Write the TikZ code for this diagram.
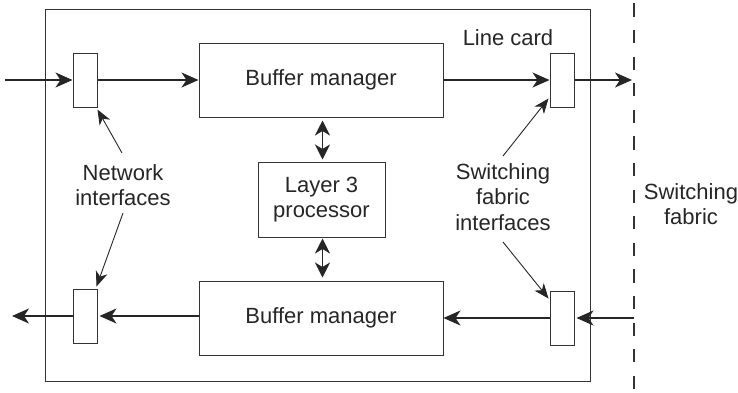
\documentclass[tikz,border=0pt]{standalone}
\usepackage{fontspec}
\setmainfont{Liberation Sans}
\usetikzlibrary{arrows.meta}
\begin{document}
\begin{tikzpicture}[x=1pt,y=-1pt,
  every node/.style={font=\fontsize{22}{25.5}\selectfont, text=black!85},
  box/.style={draw=black!80, line width=1pt, inner sep=0pt, minimum width=#1},
  port/.style={draw=black!80, line width=1pt, inner sep=0pt, minimum width=24pt, minimum height=54pt},
  flow/.style={line width=1.8pt, draw=black!85, -{Stealth[length=17pt,width=15pt,inset=5pt]}},
  both/.style={line width=1.8pt, draw=black!85, {Stealth[length=15pt,width=15pt,inset=4.5pt]}-{Stealth[length=15pt,width=15pt,inset=4.5pt]}},
  pointer/.style={line width=0.9pt, draw=black!85, -{Stealth[length=15pt,width=12pt,inset=4.5pt]}},
  label/.style={align=center, inner sep=0pt}]
  \useasboundingbox (0,0) rectangle (738,392);

  % line card frame
  \node[draw=black!80, line width=1pt, minimum width=545pt, minimum height=372pt, inner sep=0pt] (frame) at (317.5,195) {};

  % switching fabric boundary
  \coordinate (fabtop) at (634,3.3);
  \coordinate (fabbot) at (634,392);
  \draw[line width=1.1pt, draw=black!80, dash pattern=on 13.3pt off 13.3pt] (fabtop) -- (fabbot);

  % interfaces
  \node[port] (nin)  at (85,80) {};
  \node[port] (nout) at (85,316) {};
  \node[port] (sout) at (562,80) {};
  \node[port] (sin)  at (562,318) {};

  % buffer managers and processor
  \node[box=244pt, minimum height=74pt] (bm1) at (321,80) {Buffer manager};
  \node[box=244pt, minimum height=74pt] (bm2) at (321,318) {Buffer manager};
  \node[box=127pt, minimum height=75pt, align=center] (l3) at (321.5,199.5) {Layer 3\\processor};

  % labels
  \node[label] (lc) at (508,38) {Line card};
  \node[label] (ni) at (123,185) {Network\\interfaces};
  \node[label] (sfi) at (503,197) {Switching\\fabric\\interfaces};
  \node[label] (sf) at (691,204) {Switching\\fabric};

  % data path, ingress
  \coordinate (inA) at (5,80);
  \coordinate (outA) at (632,80);
  \draw[flow] (inA) -- (nin.west);
  \draw[flow] (nin.east) -- (bm1.west);
  \draw[flow] (bm1.east) -- (sout.west);
  \draw[flow] (sout.east) -- (outA);

  % data path, egress
  \coordinate (inB) at (634,318);
  \coordinate (outB) at (12,316);
  \draw[flow] (inB) -- ([xshift=2pt]sin.east);
  \draw[flow] (sin.west) -- (bm2.east);
  \draw[flow] (bm2.west |- nout.east) -- ([xshift=2pt]nout.east);
  \draw[flow] (nout.west) -- (outB);

  % processor links
  \draw[both] ([xshift=1.5pt,yshift=-3pt]bm1.south) -- ([xshift=1pt,yshift=2pt]l3.north);
  \draw[both] ([xshift=1pt,yshift=-1pt]l3.south) -- ([xshift=1.5pt,yshift=3pt]bm2.north);

  % label pointers
  \draw[pointer] (122,153) -- ([xshift=0pt,yshift=-2pt]nin.south east);
  \draw[pointer] (123,213) -- ([xshift=-1pt,yshift=2pt]nout.north east);
  \draw[pointer] (503,156) -- ([xshift=-1pt,yshift=9pt]sout.south west);
  \draw[pointer] (503,242) -- ([xshift=-1pt,yshift=-8pt]sin.north west);
\end{tikzpicture}
\end{document}
